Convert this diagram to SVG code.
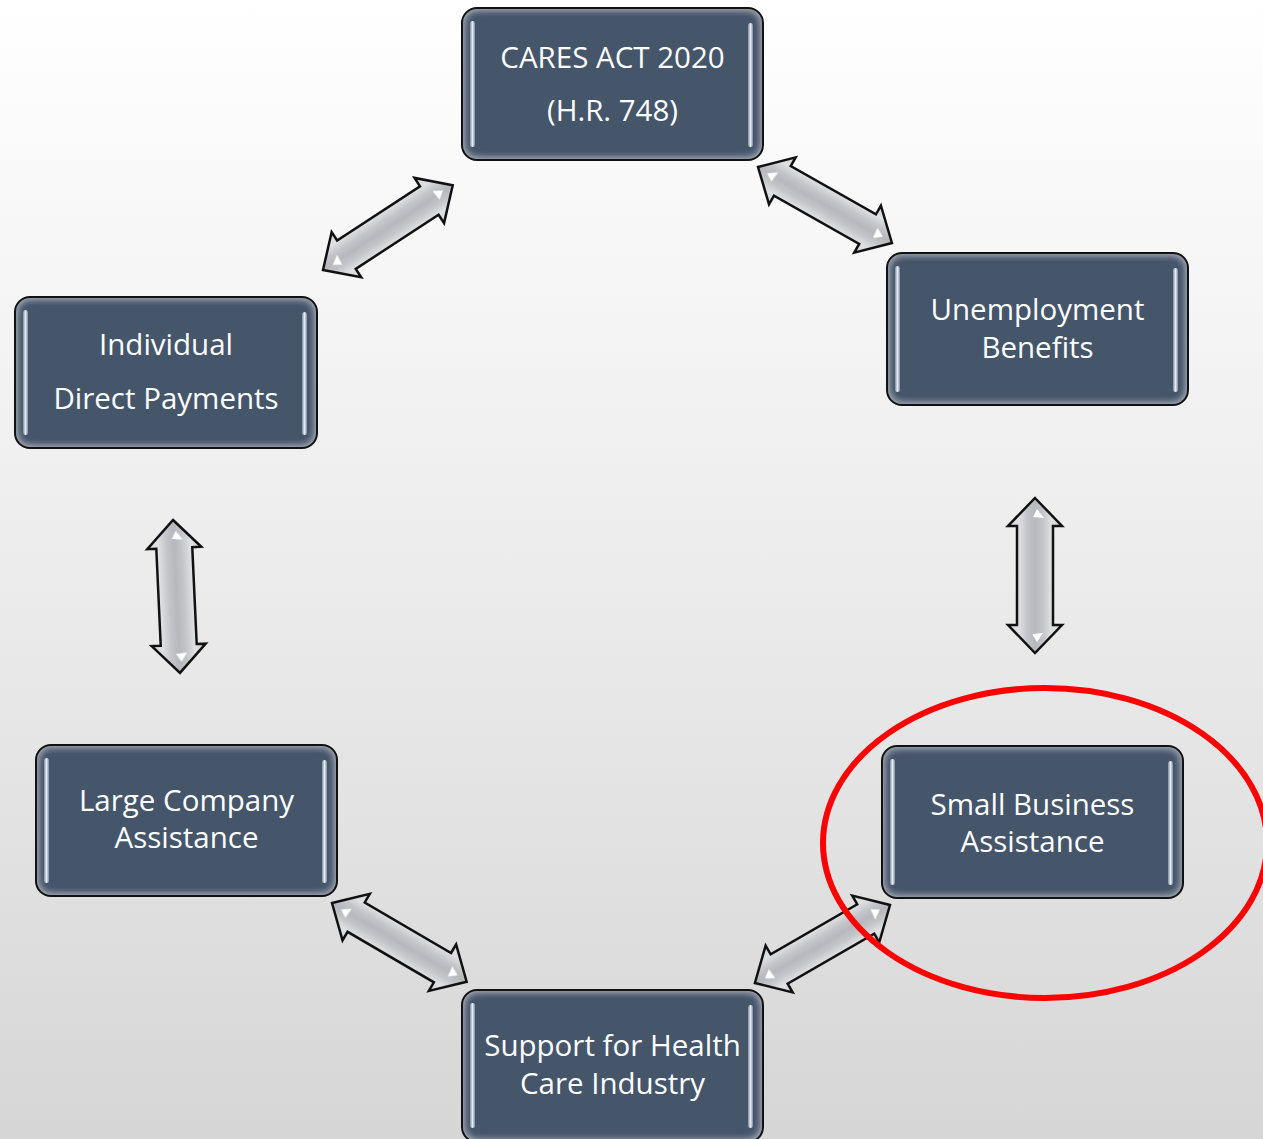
<svg xmlns="http://www.w3.org/2000/svg" width="1263" height="1139" viewBox="0 0 1263 1139">
  <defs>
    <linearGradient id="bg" x1="0" y1="0" x2="0" y2="1">
      <stop offset="0" stop-color="#ffffff"/>
      <stop offset="0.5" stop-color="#ececec"/>
      <stop offset="1" stop-color="#d6d6d6"/>
    </linearGradient>
    <linearGradient id="arrowFill" x1="0" y1="0" x2="0" y2="1">
      <stop offset="0" stop-color="#d6d7da"/>
      <stop offset="0.2" stop-color="#dfe0e3"/>
      <stop offset="0.36" stop-color="#c3c5c9"/>
      <stop offset="0.5" stop-color="#b6b8bd"/>
      <stop offset="0.64" stop-color="#c3c5c9"/>
      <stop offset="0.8" stop-color="#dfe0e3"/>
      <stop offset="1" stop-color="#d6d7da"/>
    </linearGradient>
    <linearGradient id="bar" x1="0" y1="0" x2="1" y2="0">
      <stop offset="0" stop-color="#7d8ba0"/>
      <stop offset="0.5" stop-color="#e6ecf4"/>
      <stop offset="1" stop-color="#7d8ba0"/>
    </linearGradient>
    <filter id="innerGlow" x="-5%" y="-5%" width="110%" height="110%">
      <feGaussianBlur in="SourceAlpha" stdDeviation="4" result="b"/>
      <feComposite in="SourceAlpha" in2="b" operator="arithmetic" k2="1" k3="-1" result="edge"/>
      <feFlood flood-color="#c6ced9" result="c"/>
      <feComposite in="c" in2="edge" operator="in" result="glow"/>
      <feMerge>
        <feMergeNode in="SourceGraphic"/>
        <feMergeNode in="glow"/>
      </feMerge>
    </filter>
    <filter id="soft" x="-50%" y="-50%" width="200%" height="200%">
      <feGaussianBlur stdDeviation="0.6"/>
    </filter>
  </defs>
  <style>
    .body { fill: #44546a; filter: url(#innerGlow); }
    .frame { fill: none; stroke: #111111; stroke-width: 2; }
    .bar { fill: url(#bar); }
    .label { fill: #ffffff; font-family: "Open Sans", "Noto Sans", "Liberation Sans", sans-serif; font-size: 29.5px; text-anchor: middle; }
    .arrow { fill: url(#arrowFill); stroke: #111111; stroke-width: 2.5; stroke-linejoin: miter; }
    .gleam { fill: #ffffff; opacity: 1; filter: url(#soft); }
    .mark { fill: none; stroke: #ff0000; stroke-width: 6; }
  </style>

  <rect x="0" y="0" width="1263" height="1139" fill="url(#bg)"/>

  <g id="connectors">
    <g transform="translate(323,270) rotate(-33.18)">
      <polygon class="arrow" points="0,0 28,-27 28,-17 127,-17 127,-27 155,0 127,27 127,17 28,17 28,27"/>
      <polygon class="gleam" points="11,1 20,-5 19,6"/>
      <polygon class="gleam" points="144,-1 135,-6 136,5"/>
    </g>
    <g transform="translate(758,167) rotate(29.57)">
      <polygon class="arrow" points="0,0 28,-27 28,-17 126,-17 126,-27 154,0 126,27 126,17 28,17 28,27"/>
      <polygon class="gleam" points="11,1 20,-5 19,6"/>
      <polygon class="gleam" points="143,-1 134,-6 135,5"/>
    </g>
    <g transform="translate(1035,498) rotate(90)">
      <polygon class="arrow" points="0,0 28,-27 28,-18 127,-18 127,-27 155,0 127,27 127,18 28,18 28,27"/>
      <polygon class="gleam" points="11,-2 20,-9 19,2"/>
      <polygon class="gleam" points="144,-2 135,-8 136,3"/>
    </g>
    <g transform="translate(173,520) rotate(87.38)">
      <polygon class="arrow" points="0,0 28,-27 28,-18 125,-18 125,-27 153,0 125,27 125,18 28,18 28,27"/>
      <polygon class="gleam" points="11,-2 20,-9 19,2"/>
      <polygon class="gleam" points="142,-2 133,-8 134,3"/>
    </g>
    <g transform="translate(332,903) rotate(30.33)">
      <polygon class="arrow" points="0,0 28,-27 28,-17 128,-17 128,-27 156,0 128,27 128,17 28,17 28,27"/>
      <polygon class="gleam" points="11,1 20,-5 19,6"/>
      <polygon class="gleam" points="145,-1 136,-6 137,5"/>
    </g>
    <g transform="translate(890,905) rotate(150)">
      <polygon class="arrow" points="0,0 28,-27 28,-17 128,-17 128,-27 156,0 128,27 128,17 28,17 28,27"/>
      <polygon class="gleam" points="11,1 20,-5 19,6"/>
      <polygon class="gleam" points="145,-1 136,-6 137,5"/>
    </g>
  </g>

  <g id="node-cares">
    <rect class="body" x="462" y="8" width="301" height="152" rx="15"/>
    <rect class="bar" x="470" y="21" width="5" height="126" rx="2.5"/>
    <rect class="bar" x="748" y="23" width="5" height="124" rx="2.5"/>
    <rect class="frame" x="462" y="8" width="301" height="152" rx="15"/>
    <text class="label" x="612.5" y="68">CARES ACT 2020</text>
    <text class="label" x="612.5" y="121">(H.R. 748)</text>
  </g>

  <g id="node-unemployment">
    <rect class="body" x="887" y="253" width="301" height="152" rx="15"/>
    <rect class="bar" x="895" y="266" width="5" height="126" rx="2.5"/>
    <rect class="bar" x="1173" y="268" width="5" height="124" rx="2.5"/>
    <rect class="frame" x="887" y="253" width="301" height="152" rx="15"/>
    <text class="label" x="1037.5" y="320">Unemployment</text>
    <text class="label" x="1037.5" y="358">Benefits</text>
  </g>

  <g id="node-individual">
    <rect class="body" x="15" y="297" width="302" height="151" rx="15"/>
    <rect class="bar" x="23" y="310" width="5" height="125" rx="2.5"/>
    <rect class="bar" x="302" y="312" width="5" height="123" rx="2.5"/>
    <rect class="frame" x="15" y="297" width="302" height="151" rx="15"/>
    <text class="label" x="166" y="355">Individual</text>
    <text class="label" x="166" y="409">Direct Payments</text>
  </g>

  <g id="node-large-company">
    <rect class="body" x="36" y="745" width="301" height="151" rx="15"/>
    <rect class="bar" x="44" y="758" width="5" height="125" rx="2.5"/>
    <rect class="bar" x="322" y="760" width="5" height="123" rx="2.5"/>
    <rect class="frame" x="36" y="745" width="301" height="151" rx="15"/>
    <text class="label" x="186.5" y="811">Large Company</text>
    <text class="label" x="186.5" y="848">Assistance</text>
  </g>

  <g id="node-small-business">
    <rect class="body" x="882" y="746" width="301" height="152" rx="15"/>
    <rect class="bar" x="890" y="759" width="5" height="126" rx="2.5"/>
    <rect class="bar" x="1168" y="761" width="5" height="124" rx="2.5"/>
    <rect class="frame" x="882" y="746" width="301" height="152" rx="15"/>
    <text class="label" x="1032.5" y="815">Small Business</text>
    <text class="label" x="1032.5" y="852">Assistance</text>
  </g>

  <g id="node-health-care">
    <rect class="body" x="462" y="990" width="301" height="152" rx="15"/>
    <rect class="bar" x="470" y="1003" width="5" height="125" rx="2.5"/>
    <rect class="bar" x="748" y="1005" width="5" height="123" rx="2.5"/>
    <rect class="frame" x="462" y="990" width="301" height="152" rx="15"/>
    <text class="label" x="612.5" y="1056">Support for Health</text>
    <text class="label" x="612.5" y="1094">Care Industry</text>
  </g>

  <g id="highlight">
    <ellipse class="mark" cx="1045" cy="843" rx="222" ry="155"/>
  </g>
</svg>
